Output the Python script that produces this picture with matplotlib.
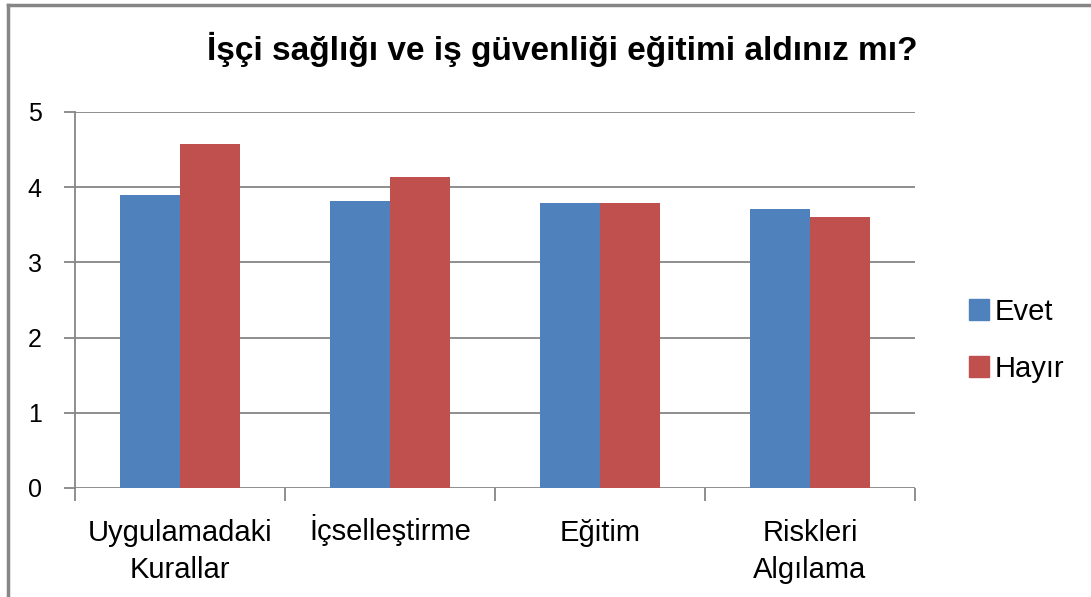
import matplotlib.pyplot as plt
import numpy as np
from matplotlib.lines import Line2D
from matplotlib.patches import Patch

plt.rcParams['font.family'] = ['Liberation Sans', 'DejaVu Sans']

categories = ['Uygulamadaki\nKurallar', 'İçselleştirme', 'Eğitim', 'Riskleri\nAlgılama']
evet = [3.90, 3.82, 3.79, 3.71]
hayir = [4.58, 4.14, 3.79, 3.60]
series_names = ['Evet', 'Hayır']
title = 'İşçi sağlığı ve iş güvenliği eğitimi aldınız mı?'

blue = '#4F81BD'
red = '#C0504D'
grid_gray = '#868686'

fig = plt.figure(figsize=(10.91, 5.97), dpi=100)
ax = fig.add_axes([0.0687, 0.1826, 0.77, 0.6298])

x = np.arange(len(categories))
w = 0.286
ax.bar(x - w / 2, evet, w, color=blue, label=series_names[0])
ax.bar(x + w / 2, hayir, w, color=red, label=series_names[1])

ax.set_xlim(-0.5, len(categories) - 0.5)
ax.set_ylim(0, 5)
ax.set_yticks(range(0, 6))
ax.yaxis.grid(True, color=grid_gray, linewidth=1.3)
ax.set_axisbelow(True)

for s in ['top', 'right', 'bottom']:
    ax.spines[s].set_visible(False)
ax.spines['left'].set_color(grid_gray)
ax.spines['left'].set_linewidth(1.3)

ax.tick_params(axis='y', length=8, width=1.3, color=grid_gray, pad=16, labelsize=18)
ax.set_xticks(x)
ax.set_xticklabels(categories, fontsize=21, linespacing=1.45, va='top')
ax.tick_params(axis='x', length=0, pad=22)
ax.set_xticks(np.arange(-0.5, len(categories)), minor=True)
ax.tick_params(axis='x', which='minor', length=9, width=1.3, color=grid_gray)
# the dotted capital I pushes this label down; pull it back in line
ax.xaxis.get_major_ticks()[1].set_pad(19)

fig.text(0.515, 0.918, title, ha='center', va='center', fontsize=24, fontweight='bold')

handles = [Patch(color=blue), Patch(color=red)]
fig.legend(handles, series_names, loc='center left', bbox_to_anchor=(0.864, 0.43),
           frameon=False, fontsize=21, handlelength=0.7, handleheight=0.7,
           handletextpad=0.2, labelspacing=1.0)

# chart area border (only top and left edges visible)
fig.add_artist(Line2D([0.0073, 0.0073], [0, 0.9916], transform=fig.transFigure,
                      color=grid_gray, linewidth=2.5))
fig.add_artist(Line2D([0.0073, 1], [0.9916, 0.9916], transform=fig.transFigure,
                      color=grid_gray, linewidth=2.5))

fig.savefig('out.png', dpi=100)
